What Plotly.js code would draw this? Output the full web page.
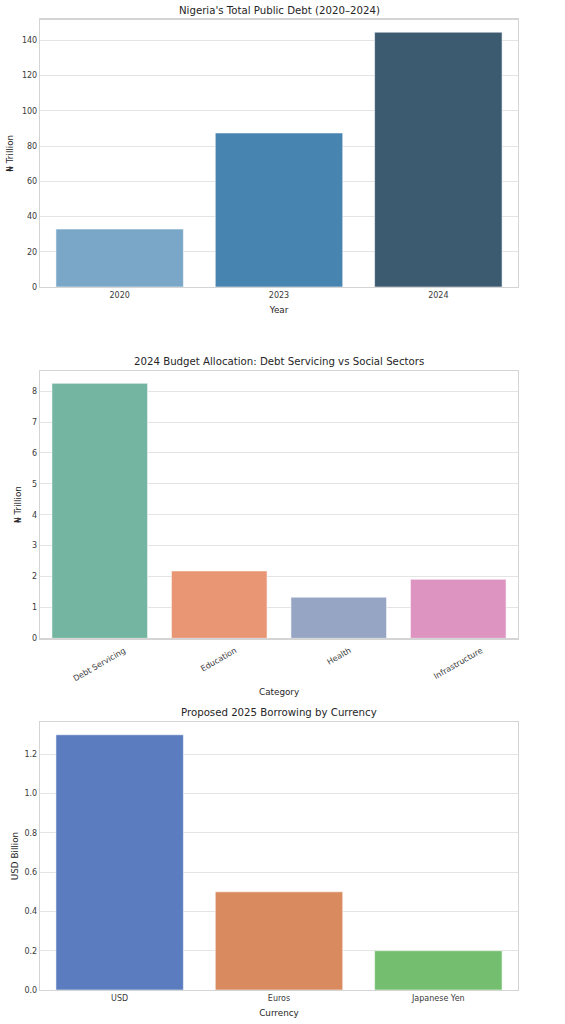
<!DOCTYPE html>
<html>
<head>
<meta charset="utf-8">
<script src="https://cdn.plot.ly/plotly-3.0.1.min.js"></script>
<style>
  html, body { margin: 0; padding: 0; background: #fff; }
  #chart { width: 565px; height: 1024px; }
</style>
</head>
<body>
<div id="chart"></div>
<script>
// chart 1: total public debt
const debtYears = ["2020", "2023", "2024"];
const debtValues = [32.9, 87.4, 144.6];
const debtColors = ["#7aa7c7", "#4884b0", "#3c5a70"];

// chart 2: 2024 budget allocation
const budgetCategories = ["Debt Servicing", "Education", "Health", "Infrastructure"];
const budgetValues = [8.25, 2.18, 1.33, 1.91];
const budgetColors = ["#73b5a0", "#e99674", "#96a5c3", "#dd94c0"];

// chart 3: 2025 borrowing by currency
const currencies = ["USD", "Euros", "Japanese Yen"];
const borrowValues = [1.3, 0.5, 0.2];
const borrowColors = ["#5b7cbe", "#d98a5f", "#74bf6f"];

const textCol = "#262626";
const gridCol = "#e4e4e4";
const frameCol = "#d4d4d4";
const fnt = "DejaVu Sans, sans-serif";
const W = 565, H = 1024;
const xDom = [40 / W, 518 / W];
const py = (top, bottom) => [1 - bottom / H, 1 - top / H];

function bar(x, y, colors, xa, ya) {
  return {
    type: "bar", x: x, y: y, xaxis: xa, yaxis: ya, width: 0.8,
    marker: { color: colors, line: { color: "rgba(255,255,255,0.55)", width: 1 } },
    hoverinfo: "x+y", showlegend: false
  };
}

function yax(domain, anchor, range, dtick, title, standoff) {
  return {
    domain: domain, anchor: anchor, range: range, dtick: dtick, automargin: false,
    showgrid: true, gridcolor: gridCol, gridwidth: 1,
    showline: true, mirror: true, linecolor: frameCol, linewidth: 1.2,
    zeroline: false, ticks: "", ticklen: 0,
    tickfont: { family: fnt, size: 8, color: "#3a3a3a" },
    title: { text: title, standoff: standoff, font: { family: fnt, size: 8.8, color: textCol } }
  };
}

function xax(domain, anchor, n, title, showLabels) {
  return {
    domain: domain, anchor: anchor, type: "category", range: [-0.5, n - 0.5], automargin: false,
    showgrid: false, showline: true, mirror: true, linecolor: frameCol, linewidth: 1.2,
    zeroline: false, ticks: "", showticklabels: showLabels,
    tickfont: { family: fnt, size: 8, color: "#3a3a3a" },
    title: { text: title, standoff: 8, font: { family: fnt, size: 8.8, color: textCol } }
  };
}

const data = [
  bar(debtYears, debtValues, debtColors, "x", "y"),
  bar(budgetCategories, budgetValues, budgetColors, "x2", "y2"),
  bar(currencies, borrowValues, borrowColors, "x3", "y3")
];

const titleFont = { family: fnt, size: 10.2, color: textCol };
const annotations = [
  { text: "Nigeria's Total Public Debt (2020–2024)", xref: "paper", yref: "paper",
    x: 279 / W, y: 1 - 10.5 / H, yanchor: "middle", showarrow: false, font: titleFont },
  { text: "2024 Budget Allocation: Debt Servicing vs Social Sectors", xref: "paper", yref: "paper",
    x: 279 / W, y: 1 - 361.5 / H, yanchor: "middle", showarrow: false, font: titleFont },
  { text: "Proposed 2025 Borrowing by Currency", xref: "paper", yref: "paper",
    x: 279 / W, y: 1 - 712.5 / H, yanchor: "middle", showarrow: false, font: titleFont },
  { text: "Category", xref: "paper", yref: "paper",
    x: 279 / W, y: 1 - 692 / H, yanchor: "middle", showarrow: false,
    font: { family: fnt, size: 8.8, color: textCol } }
];
// rotated category labels for chart 2, centred under each bar
budgetCategories.forEach(c => {
  annotations.push({
    text: c, xref: "x2", yref: "y2", x: c, y: 0, yshift: -5,
    xanchor: "center", yanchor: "top", textangle: -30, showarrow: false,
    font: { family: fnt, size: 8, color: "#3a3a3a" }
  });
});

const layout = {
  width: W, height: H,
  margin: { l: 0, r: 0, t: 0, b: 0 },
  paper_bgcolor: "#fff", plot_bgcolor: "#fff",
  bargap: 0.2,
  xaxis: xax(xDom, "y", 3, "Year", true),
  yaxis: yax(py(19.5, 287), "x", [0, 151.8], 20, "₦ Trillion", 6),
  xaxis2: xax(xDom, "y2", 4, "", false),
  yaxis2: yax(py(370.7, 638.3), "x2", [0, 8.66], 1, "₦ Trillion", 9),
  xaxis3: xax(xDom, "y3", 3, "Currency", true),
  yaxis3: yax(py(722, 990), "x3", [0, 1.365], 0.2, "USD Billion", 4),
  annotations: annotations
};
layout.yaxis3.tickformat = ".1f";

Plotly.newPlot("chart", data, layout, { displayModeBar: false, staticPlot: true });
</script>
</body>
</html>
